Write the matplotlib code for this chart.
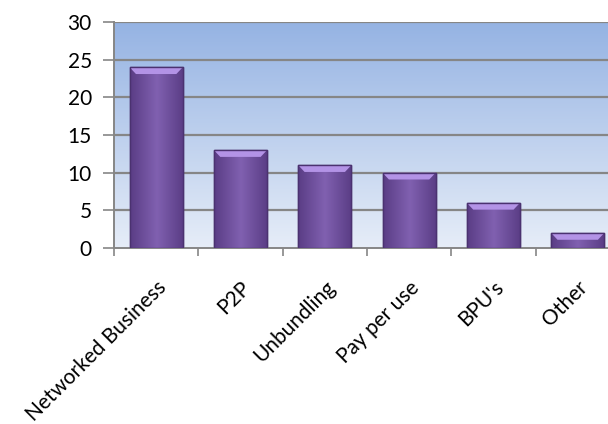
import numpy as np
import matplotlib.pyplot as plt
from matplotlib.colors import LinearSegmentedColormap

categories = ["Networked Business", "P2P", "Unbundling", "Pay per use", "BPU's", "Other"]
values = [24, 13, 11, 10, 6, 2]
y_ticks = [0, 5, 10, 15, 20, 25, 30]

plt.rcParams["font.family"] = ["Lato", "DejaVu Sans"]

fig = plt.figure(figsize=(6.08, 4.24), dpi=100)
ax = fig.add_axes([0.1875, 0.415, 0.832, 0.533])

x = np.arange(len(categories))
ax.set_xlim(-0.5, len(categories) - 0.5)
ax.set_ylim(0, 30)

# plot area background: vertical blue gradient
bg = np.linspace(0, 1, 256).reshape(-1, 1)
bg_cmap = LinearSegmentedColormap.from_list("bg", ["#e6edf8", "#95b3e3"])
ax.imshow(bg, cmap=bg_cmap, aspect="auto", origin="lower",
          extent=(-0.5, len(categories) - 0.5, 0, 30), zorder=0)

for yv in y_ticks[1:]:
    ax.axhline(yv, color="#868686", lw=1.6, zorder=1)

bars = ax.bar(x, values, width=0.63, color="#6e4f9c", edgecolor="#4b3270",
              linewidth=1.0, zorder=2)

# horizontal shading on each bar
shade = np.concatenate([np.linspace(0, 1, 64), np.linspace(1, 0, 64)]).reshape(1, -1)
bar_cmap = LinearSegmentedColormap.from_list("bar", ["#5a3d85", "#8060b0"])
for b in bars:
    x0, w, h = b.get_x(), b.get_width(), b.get_height()
    im = ax.imshow(shade, cmap=bar_cmap, aspect="auto",
                   extent=(x0, x0 + w, 0, h), zorder=3)
    im.set_clip_path(b)
    # light bevel at the top
    ax.fill([x0, x0 + w, x0 + w * 0.88, x0 + w * 0.12],
            [h, h, h - 0.9, h - 0.9], color="#b393e6", lw=0, zorder=4)
    ax.plot([x0, x0 + w, x0 + w, x0, x0], [0, 0, h, h, 0],
            color="#4b3270", lw=1.0, zorder=5)

ax.set_xticks(np.arange(len(categories) + 1) - 0.5)
ax.set_xticklabels([])
ax.set_xticks(x, minor=True)
ax.set_xticklabels(categories, minor=True, rotation=45, ha="right",
                   rotation_mode="anchor", fontsize=15)
ax.tick_params(axis="x", which="minor", length=0, pad=21)
ax.tick_params(axis="x", which="major", length=6, color="#868686", width=1.2)

ax.set_yticks(y_ticks)
ax.tick_params(axis="y", length=8, color="#868686", width=1.2, labelsize=15, pad=8)

for side in ["top", "right"]:
    ax.spines[side].set_visible(False)
for side in ["left", "bottom"]:
    ax.spines[side].set_color("#868686")
    ax.spines[side].set_linewidth(1.4)

fig.savefig("out.png", dpi=100)
